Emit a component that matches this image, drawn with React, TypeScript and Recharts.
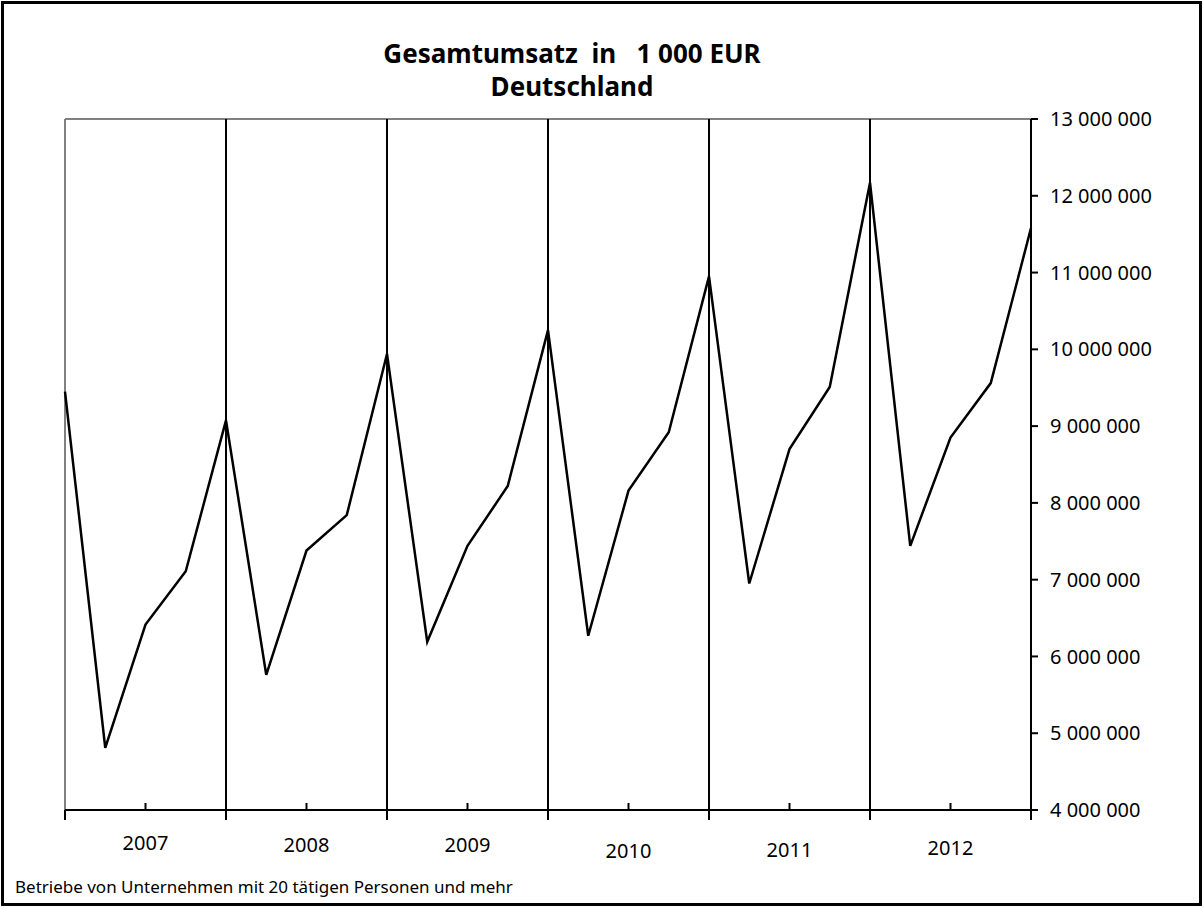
import React from 'react';
import { LineChart, Line, XAxis, YAxis, ReferenceLine } from 'recharts';

const quarterIndex = [0, 1, 2, 3, 4, 5, 6, 7, 8, 9, 10, 11, 12, 13, 14, 15, 16, 17, 18, 19, 20, 21, 22, 23, 24];
const revenue = [
  9450000, 4810000, 6415000, 7110000,
  9075000, 5760000, 7380000, 7840000,
  9940000, 6190000, 7440000, 8220000,
  10250000, 6270000, 8160000, 8920000,
  10950000, 6950000, 8700000, 9510000,
  12170000, 7440000, 8850000, 9560000,
  11580000,
];
const years = ['2007', '2008', '2009', '2010', '2011', '2012'];
const yearBoundaries = [4, 8, 12, 16, 20];
const xTicks = [0, 2, 4, 6, 8, 10, 12, 14, 16, 18, 20, 22, 24];
const yTicks = [4000000, 5000000, 6000000, 7000000, 8000000, 9000000, 10000000, 11000000, 12000000, 13000000];

const title1 = 'Gesamtumsatz  in   1 000 EUR';
const title2 = 'Deutschland';
const footnote = 'Betriebe von Unternehmen mit 20 tätigen Personen und mehr';

const data = quarterIndex.map((q, i) => ({ q, value: revenue[i] }));

const FONT = '"Noto Sans", "DejaVu Sans", sans-serif';

const fmt = (v: number) => String(v).replace(/\B(?=(\d{3})+(?!\d))/g, ' ');

// small vertical nudges of the year labels as in the original layout
const labelNudge = [0, 2, 2, 8, 7, 5];

const YearTick = (props: any) => {
  const { x, y, payload } = props;
  const v = payload.value as number;
  if (v % 4 === 0) {
    return <line x1={x} y1={y} x2={x} y2={y + 10} stroke="#000" strokeWidth={2} />;
  }
  const idx = (v - 2) / 4;
  return (
    <g>
      <line x1={x} y1={y - 7} x2={x} y2={y} stroke="#000" strokeWidth={2} />
      <text x={x} y={y + 40 + labelNudge[idx]} textAnchor="middle" fontSize={20} fontFamily={FONT} fill="#000">
        {years[idx]}
      </text>
    </g>
  );
};

export default function App() {
  return (
    <div style={{ position: 'absolute', left: 0, top: 0, width: 1204, height: 908, background: '#fff' }}>
      <LineChart
        width={1204}
        height={908}
        data={data}
        margin={{ top: 119, left: 65, right: 0, bottom: 68 }}
        style={{ position: 'absolute', left: 0, top: 0 }}
      >
        <XAxis
          type="number"
          dataKey="q"
          domain={[0, 24]}
          ticks={xTicks}
          interval={0}
          tickSize={0}
          tickMargin={0}
          tickLine={false}
          height={30}
          axisLine={{ stroke: '#000', strokeWidth: 2 }}
          tick={<YearTick />}
        />
        <YAxis
          orientation="right"
          domain={[4000000, 13000000]}
          ticks={yTicks}
          interval={0}
          width={173}
          tickSize={7}
          tickMargin={12}
          tickLine={{ stroke: '#000', strokeWidth: 2 }}
          axisLine={{ stroke: '#000', strokeWidth: 2 }}
          tick={{ fill: '#000', fontSize: 20, fontFamily: FONT }}
          tickFormatter={fmt}
        />
        <ReferenceLine x={0} stroke="#808080" strokeWidth={2} />
        <ReferenceLine y={13000000} stroke="#808080" strokeWidth={2} />
        {yearBoundaries.map((b) => (
          <ReferenceLine key={b} x={b} stroke="#000" strokeWidth={2} />
        ))}
        <Line
          type="linear"
          dataKey="value"
          stroke="#000"
          strokeWidth={2.5}
          dot={false}
          isAnimationActive={false}
        />
      </LineChart>
      <div
        style={{
          position: 'absolute',
          left: 0,
          width: 1144,
          top: 37,
          textAlign: 'center',
          fontFamily: FONT,
          fontWeight: 'bold',
          fontSize: 26,
          lineHeight: '33px',
          whiteSpace: 'pre',
          color: '#000',
        }}
      >
        <div>{title1}</div>
        <div>{title2}</div>
      </div>
      <div
        style={{
          position: 'absolute',
          left: 15,
          top: 875,
          fontFamily: FONT,
          fontSize: 17,
          color: '#000',
          whiteSpace: 'pre',
        }}
      >
        {footnote}
      </div>
      <div
        style={{
          position: 'absolute',
          left: 1,
          top: 1,
          width: 1201,
          height: 905,
          boxSizing: 'border-box',
          border: '3px solid #000',
          pointerEvents: 'none',
        }}
      />
    </div>
  );
}
